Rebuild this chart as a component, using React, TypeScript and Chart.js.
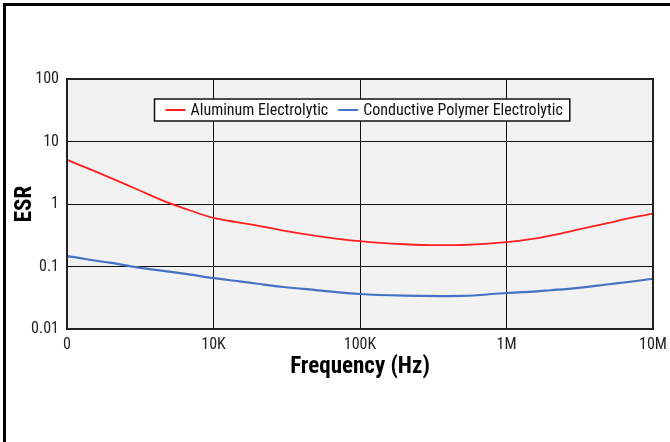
import React, { useEffect, useRef } from "react";
import { Chart, registerables } from "chart.js";

Chart.register(...registerables);

const FREQ = [1e3, 1.5e3, 2e3, 3e3, 5e3, 7e3, 1e4, 1.5e4, 2e4, 3e4, 5e4, 1e5, 2e5, 3.5e5, 5e5, 1e6, 1.5e6, 2e6, 3e6, 5e6, 7e6, 1e7];
const ALUMINUM = [5.1, 3.45, 2.6, 1.72, 1.03, 0.78, 0.6, 0.505, 0.45, 0.375, 0.31, 0.254, 0.227, 0.219, 0.221, 0.245, 0.277, 0.313, 0.384, 0.5, 0.6, 0.7];
const POLYMER = [0.147, 0.126, 0.114, 0.097, 0.083, 0.074, 0.065, 0.058, 0.053, 0.047, 0.042, 0.0363, 0.0341, 0.0336, 0.0338, 0.0377, 0.0395, 0.0417, 0.0452, 0.052, 0.057, 0.0637];

const SERIES_LABELS = ["Aluminum Electrolytic", "Conductive Polymer Electrolytic"];
const SERIES_COLORS = ["#ff1f1f", "#4472c4"];

const X_TICK_VALUES = [1e3, 1e4, 1e5, 1e6, 1e7];
const X_TICK_LABELS = ["0", "10K", "100K", "1M", "10M"];
const Y_TICK_VALUES = [0.01, 0.1, 1, 10, 100];
const Y_TICK_LABELS = ["0.01", "0.1", "1", "10", "100"];

const X_TITLE = "Frequency (Hz)";
const Y_TITLE = "ESR";

const FONT = '"Liberation Sans Narrow", "Roboto Condensed", "DejaVu Sans Condensed", Roboto, sans-serif';

const plotBackground = {
  id: "plotBackground",
  beforeDraw(chart: any) {
    const { ctx, chartArea } = chart;
    ctx.save();
    ctx.fillStyle = "#f2f2f2";
    ctx.fillRect(chartArea.left, chartArea.top, chartArea.right - chartArea.left, chartArea.bottom - chartArea.top);
    ctx.restore();
  },
};

const plotBorderAndLegend = {
  id: "plotBorderAndLegend",
  afterDraw(chart: any) {
    const { ctx, chartArea } = chart;
    ctx.save();
    ctx.strokeStyle = "#222";
    ctx.lineWidth = 2;
    ctx.strokeRect(chartArea.left, chartArea.top, chartArea.right - chartArea.left, chartArea.bottom - chartArea.top);

    ctx.font = `16px ${FONT}`;
    const items = chart.data.datasets.map((d: any) => ({
      label: d.label,
      color: d.borderColor,
      w: ctx.measureText(d.label).width,
    }));
    const sample = 20, gapS = 5, gapItem = 10, padL = 11, padR = 7, h = 22;
    const total = padL + padR + items.reduce((a: number, it: any) => a + sample + gapS + it.w, 0) + gapItem * (items.length - 1);
    const cx = (chartArea.left + chartArea.right) / 2 + 1.5;
    const x0 = Math.round(cx - total / 2) + 0.5;
    const y0 = chartArea.top + 20;
    ctx.fillStyle = "#fff";
    ctx.fillRect(x0, y0, total, h);
    ctx.strokeStyle = "#111";
    ctx.lineWidth = 1.5;
    ctx.strokeRect(x0, y0, total, h);
    let x = x0 + padL;
    const cy = y0 + h / 2;
    ctx.textBaseline = "middle";
    ctx.textAlign = "left";
    for (const it of items) {
      ctx.strokeStyle = it.color;
      ctx.lineWidth = 2;
      ctx.beginPath();
      ctx.moveTo(x, cy);
      ctx.lineTo(x + sample, cy);
      ctx.stroke();
      x += sample + gapS;
      ctx.fillStyle = "#111";
      ctx.fillText(it.label, x, cy + 1);
      x += it.w + gapItem;
    }
    ctx.restore();
  },
};

export default function App() {
  const ref = useRef<HTMLCanvasElement | null>(null);

  useEffect(() => {
    if (!ref.current) return;
    const chart = new Chart(ref.current, {
      type: "line",
      data: {
        datasets: [
          {
            label: SERIES_LABELS[0],
            data: FREQ.map((f, i) => ({ x: f, y: ALUMINUM[i] })),
            borderColor: SERIES_COLORS[0],
            borderWidth: 1.8,
            pointRadius: 0,
            cubicInterpolationMode: "monotone",
            fill: false,
          },
          {
            label: SERIES_LABELS[1],
            data: FREQ.map((f, i) => ({ x: f, y: POLYMER[i] })),
            borderColor: SERIES_COLORS[1],
            borderWidth: 2.2,
            pointRadius: 0,
            cubicInterpolationMode: "monotone",
            fill: false,
          },
        ],
      },
      options: {
        responsive: false,
        animation: false,
        layout: { padding: { top: 79, right: 17, left: 0, bottom: 0 } },
        plugins: {
          legend: { display: false },
          tooltip: { enabled: false },
        },
        scales: {
          x: {
            type: "logarithmic",
            min: 1e3,
            max: 1e7,
            afterBuildTicks: (s: any) => {
              s.ticks = X_TICK_VALUES.map((v) => ({ value: v }));
            },
            afterFit: (s: any) => {
              s.height = 113;
              s.paddingLeft = 0;
              s.paddingRight = 0;
            },
            ticks: {
              autoSkip: false,
              maxRotation: 0,
              padding: 6,
              color: "#222",
              font: { family: FONT, size: 16 },
              callback: (v: any) => {
                const i = X_TICK_VALUES.indexOf(Number(v));
                return i >= 0 ? X_TICK_LABELS[i] : "";
              },
            },
            grid: { color: "#111", lineWidth: 1, drawTicks: false },
            border: { display: false },
            title: {
              display: true,
              text: X_TITLE,
              color: "#000",
              font: { family: FONT, size: 23, weight: "bold" },
              padding: { top: 0, bottom: 61 },
            },
          },
          y: {
            type: "logarithmic",
            min: 0.01,
            max: 100,
            afterBuildTicks: (s: any) => {
              s.ticks = Y_TICK_VALUES.map((v) => ({ value: v }));
            },
            afterFit: (s: any) => {
              s.width = 67;
              s.paddingTop = 0;
              s.paddingBottom = 0;
            },
            ticks: {
              autoSkip: false,
              padding: 8,
              color: "#222",
              font: { family: FONT, size: 16 },
              callback: (v: any) => {
                const i = Y_TICK_VALUES.findIndex((t) => Math.abs(t - Number(v)) / t < 1e-6);
                return i >= 0 ? Y_TICK_LABELS[i] : "";
              },
            },
            grid: { color: "#111", lineWidth: 1, drawTicks: false },
            border: { display: false },
            title: {
              display: true,
              text: Y_TITLE,
              color: "#000",
              font: { family: FONT, size: 23, weight: "bold" },
              padding: { top: 11, bottom: 0 },
            },
          },
        },
      },
      plugins: [plotBackground, plotBorderAndLegend],
    } as any);
    return () => chart.destroy();
  }, []);

  return (
    <div style={{ position: "absolute", left: 0, top: 0, width: 670, height: 442, background: "#fff", overflow: "hidden" }}>
      <canvas ref={ref} width={670} height={442} style={{ display: "block", width: 670, height: 442 }} />
      <div
        style={{
          position: "absolute",
          left: 3,
          top: 3,
          width: 667,
          height: 439,
          boxSizing: "border-box",
          borderTop: "3px solid #000",
          borderLeft: "3px solid #000",
          pointerEvents: "none",
        }}
      />
    </div>
  );
}
